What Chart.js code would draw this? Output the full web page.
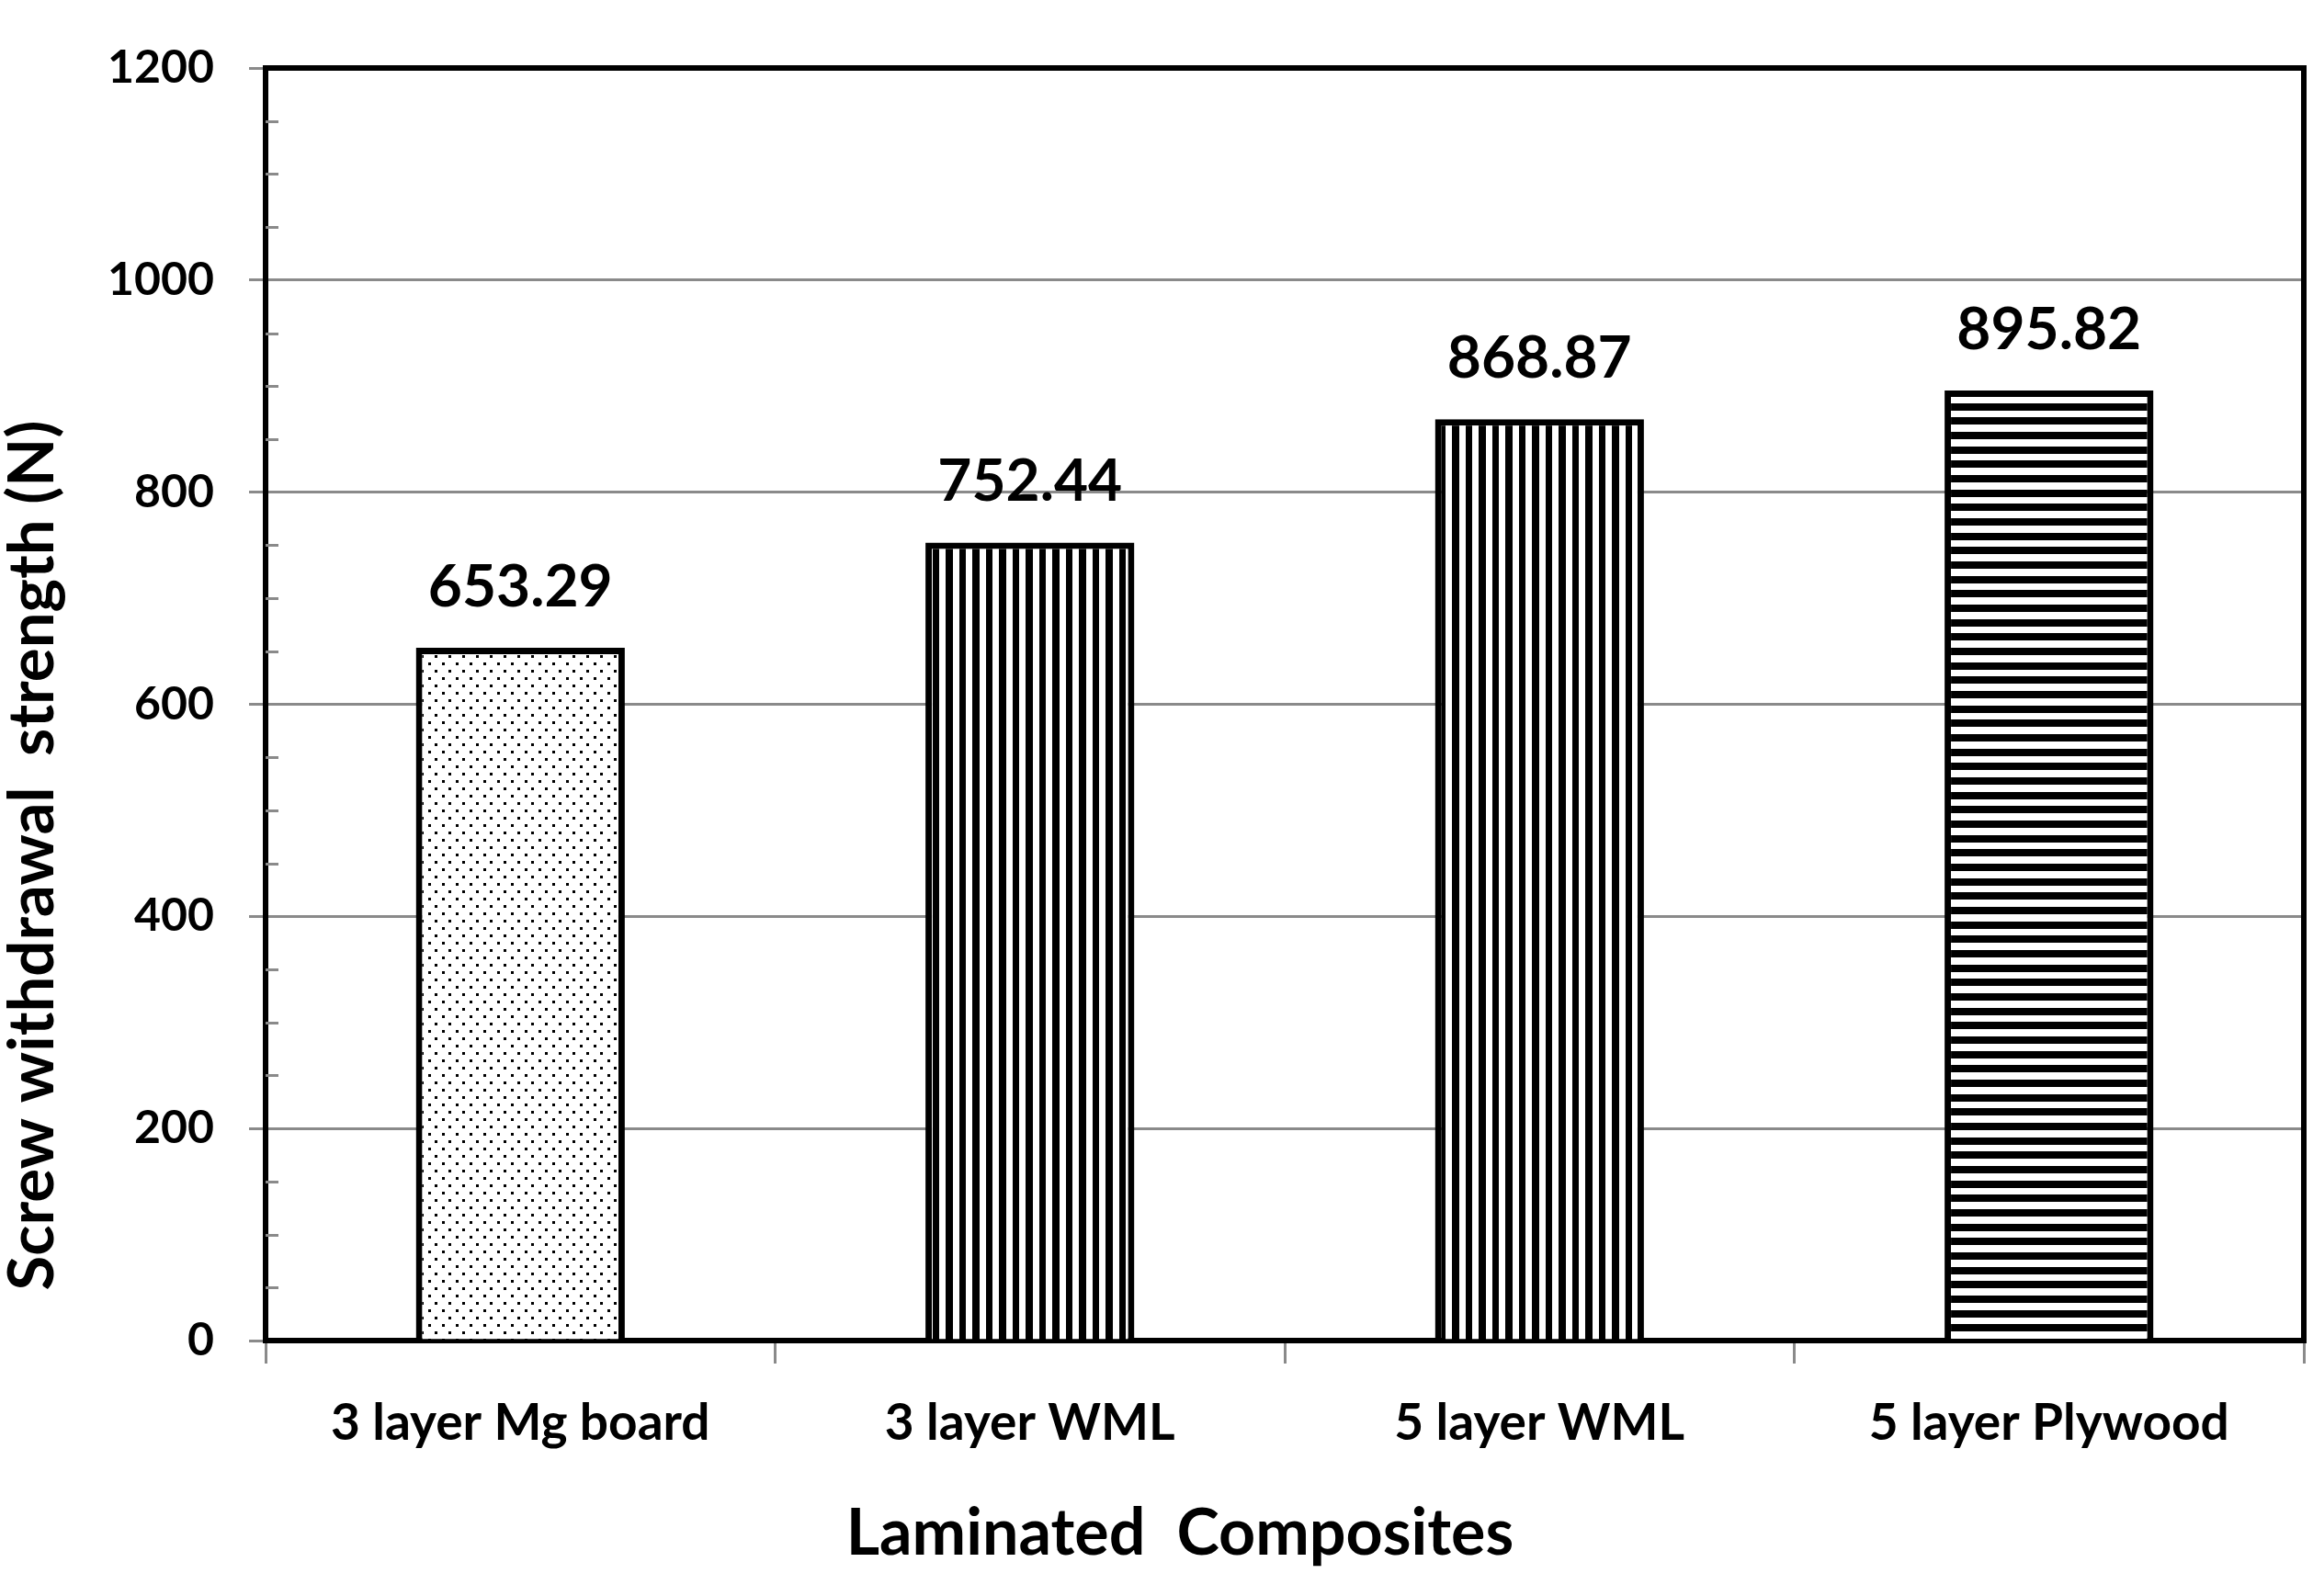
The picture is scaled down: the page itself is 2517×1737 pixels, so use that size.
<!DOCTYPE html>
<html>
<head>
<meta charset="utf-8">
<script src="https://cdn.jsdelivr.net/npm/chart.js@4/dist/chart.umd.min.js"></script>
<style>
    html, body { margin: 0; padding: 0; background: #fff; }
    canvas { display: block; }
</style>
</head>
<body>
<canvas id="myChart" width="2517" height="1737"></canvas>
<script>
const categories = ["3 layer Mg board", "3 layer WML", "5 layer WML", "5 layer Plywood"];
const strengths = [653.29, 752.44, 868.87, 895.82];
const yTicks = [0, 200, 400, 600, 800, 1000, 1200];
const yMinorStep = 50;
const yTitle = "Screw withdrawal  strength (N)";
const xTitle = "Laminated  Composites";

const FONT = "Lato, 'Open Sans', sans-serif";
const GRID_GRAY = "#8a8a8a";

// fill patterns for the bars
function make_pattern(w, h, draw) {
    const c = document.createElement("canvas");
    c.width = w;
    c.height = h;
    const g = c.getContext("2d");
    g.fillStyle = "#fff";
    g.fillRect(0, 0, w, h);
    g.fillStyle = "#000";
    draw(g);
    return g.createPattern(c, "repeat");
}

const ctx0 = document.getElementById("myChart").getContext("2d");

const dots = make_pattern(15, 16, (g) => {
    g.fillRect(1, 1, 3, 3);
    g.fillRect(8, 9, 3, 3);
});
const vstripes = make_pattern(29, 4, (g) => {
    g.fillRect(0, 0, 7, 4);
    g.fillRect(14, 0, 8, 4);
});
const hstripes = make_pattern(4, 47, (g) => {
    g.fillRect(0, 0, 4, 8);
    g.fillRect(0, 16, 4, 8);
    g.fillRect(0, 31, 4, 8);
});
const fills = [dots, vstripes, vstripes, hstripes];

const extras = {
    id: "extras",
    afterDatasetsDraw(chart) {
        const ctx = chart.ctx;
        const area = chart.chartArea;
        const y = chart.scales.y;

        // minor ticks inside the plot
        ctx.save();
        ctx.strokeStyle = GRID_GRAY;
        ctx.lineWidth = 3;
        for (let v = 0; v <= 1200; v += yMinorStep) {
            if (yTicks.includes(v)) continue;
            const py = Math.round(y.getPixelForValue(v)) + 0.5;
            ctx.beginPath();
            ctx.moveTo(area.left, py);
            ctx.lineTo(area.left + 14, py);
            ctx.stroke();
        }

        // top and right frame
        ctx.strokeStyle = "#000";
        ctx.lineWidth = 6;
        ctx.beginPath();
        ctx.moveTo(area.left - 3, area.top);
        ctx.lineTo(area.right, area.top);
        ctx.lineTo(area.right, area.bottom + 3);
        ctx.stroke();

        // value labels
        ctx.fillStyle = "#000";
        ctx.font = "bold 64px " + FONT;
        ctx.textAlign = "center";
        ctx.textBaseline = "middle";
        const meta = chart.getDatasetMeta(0);
        meta.data.forEach((bar, i) => {
            ctx.fillText(strengths[i].toFixed(2), bar.x, bar.y - 66);
        });

        // x axis title (sits a little left of the plot centre)
        ctx.font = "bold 70px " + FONT;
        ctx.fillText(xTitle, 1284, 1669);

        // y axis title
        ctx.translate(36, 931);
        ctx.rotate(-Math.PI / 2);
        ctx.font = "bold 69px " + FONT;
        ctx.fillText(yTitle, 0, 0);
        ctx.restore();
    },
};

new Chart(ctx0, {
    type: "bar",
    data: {
        labels: categories,
        datasets: [
            {
                data: strengths,
                backgroundColor: fills,
                borderColor: "#000",
                borderWidth: 7,
                categoryPercentage: 1,
                barPercentage: 0.41,
            },
        ],
    },
    plugins: [extras],
    options: {
        responsive: false,
        devicePixelRatio: 1,
        animation: false,
        layout: {
            padding: { left: 0, top: 74, right: 10, bottom: 0 },
        },
        plugins: {
            legend: { display: false },
            tooltip: { enabled: false },
        },
        scales: {
            x: {
                afterFit: (scale) => {
                    scale.height = 278;
                },
                grid: {
                    offset: true,
                    drawOnChartArea: false,
                    color: GRID_GRAY,
                    tickColor: GRID_GRAY,
                    lineWidth: 3,
                    tickLength: 25,
                },
                border: { color: "#000", width: 6 },
                ticks: {
                    color: "#000",
                    padding: 32,
                    maxRotation: 0,
                    font: { family: FONT, weight: "bold", size: 55 },
                },
            },
            y: {
                min: 0,
                max: 1200,
                afterFit: (scale) => {
                    scale.width = 289;
                },
                afterBuildTicks: (scale) => {
                    scale.ticks = yTicks.map((v) => ({ value: v }));
                },
                grid: {
                    color: GRID_GRAY,
                    tickColor: GRID_GRAY,
                    lineWidth: 3,
                    tickLength: 18,
                },
                border: { color: "#000", width: 6 },
                ticks: {
                    color: "#000",
                    padding: 38,
                    font: { family: FONT, weight: "bold", size: 50 },
                    callback: (v) => String(v),
                },
            },
        },
    },
});
</script>
</body>
</html>
